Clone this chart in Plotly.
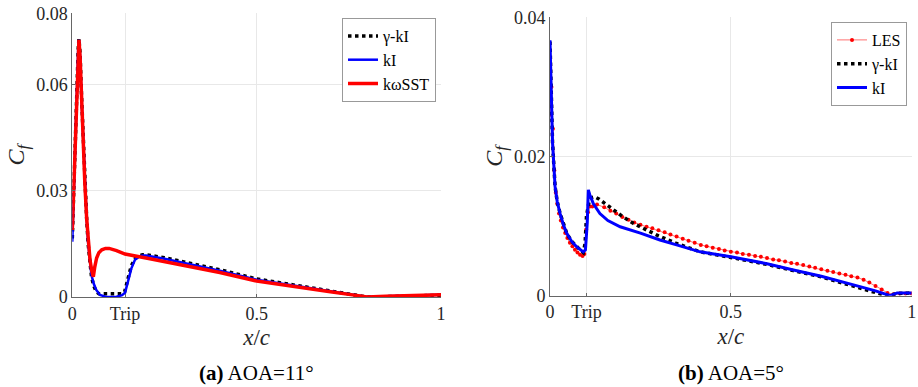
import plotly.graph_objects as go

# ---------- Panel (a): AOA = 11 deg ----------
a_sst_x = [0.0, 0.004, 0.008, 0.012, 0.016, 0.018, 0.021, 0.025, 0.03, 0.034, 0.039, 0.043, 0.048, 0.052,
           0.057, 0.061, 0.066, 0.072, 0.08, 0.09, 0.1, 0.12, 0.143, 0.2, 0.25, 0.3, 0.4, 0.5, 0.6, 0.7,
           0.76, 0.8, 0.85, 0.9, 1.0]
a_sst_y = [0.0189, 0.032, 0.047, 0.060, 0.070, 0.0725, 0.068, 0.056, 0.042, 0.032, 0.022, 0.0152, 0.0105,
           0.0078, 0.0057, 0.0085, 0.011, 0.0125, 0.0133, 0.0137, 0.0137, 0.0131, 0.0121, 0.011, 0.010,
           0.0089, 0.0069, 0.0045, 0.0029, 0.0015, 0.0006, 0.0, 0.0002, 0.0004, 0.0006]

a_ki_x = [0.0, 0.004, 0.008, 0.012, 0.016, 0.018, 0.021, 0.025, 0.03, 0.034, 0.039, 0.043, 0.048, 0.052,
          0.058, 0.065, 0.075, 0.09, 0.105, 0.12, 0.135, 0.143, 0.15, 0.16, 0.17, 0.18, 0.19, 0.2, 0.25,
          0.3, 0.4, 0.5, 0.6, 0.7, 0.8, 0.85, 0.9, 1.0]
a_ki_y = [0.0156, 0.030, 0.046, 0.060, 0.070, 0.0725, 0.068, 0.056, 0.042, 0.032, 0.022, 0.0152, 0.0095,
          0.0062, 0.0038, 0.002, 0.0006, 0.0001, 0.0, 0.0001, 0.0005, 0.0012, 0.004, 0.008, 0.0105,
          0.0113, 0.0117, 0.0117, 0.0108, 0.0097, 0.0074, 0.0049, 0.0032, 0.0017, 0.0, 0.0002, 0.0004, 0.0006]

a_gki_x = [0.0, 0.004, 0.008, 0.012, 0.016, 0.018, 0.021, 0.025, 0.03, 0.034, 0.039, 0.043, 0.048, 0.052,
           0.058, 0.065, 0.072, 0.09, 0.105, 0.12, 0.135, 0.142, 0.15, 0.16, 0.17, 0.18, 0.19, 0.2, 0.25,
           0.3, 0.4, 0.5, 0.6, 0.7, 0.8, 0.85, 0.9, 1.0]
a_gki_y = [0.0165, 0.031, 0.046, 0.060, 0.070, 0.0728, 0.069, 0.057, 0.043, 0.033, 0.022, 0.0150, 0.0090,
           0.0058, 0.0032, 0.0015, 0.0009, 0.0009, 0.0009, 0.0009, 0.0009, 0.0015, 0.005, 0.0088, 0.0108,
           0.0116, 0.0119, 0.0119, 0.0111, 0.0100, 0.0077, 0.0051, 0.0034, 0.0018, 0.0, 0.0001, 0.0003, 0.0005]

a_tick_vals = [0, 0.143, 0.5, 1]
a_tick_text = ["0", "Trip", "0.5", "1"]
a_ytick_vals = [0, 0.03, 0.06, 0.08]
a_ytick_text = ["0", "0.03", "0.06", "0.08"]

# ---------- Panel (b): AOA = 5 deg ----------
b_ki_x = [0.0, 0.003, 0.007, 0.014, 0.02, 0.028, 0.037, 0.046, 0.06, 0.074, 0.085, 0.092, 0.098, 0.103,
          0.106, 0.11, 0.12, 0.138, 0.16, 0.194, 0.25, 0.304, 0.35, 0.415, 0.5, 0.6, 0.673, 0.75, 0.857,
          0.9, 0.94, 0.96, 1.0]
b_ki_y = [0.0367, 0.030, 0.022, 0.0157, 0.0135, 0.0118, 0.0102, 0.0090, 0.0078, 0.0070, 0.0065, 0.0063,
          0.0066, 0.0105, 0.0152, 0.0145, 0.0132, 0.0118, 0.0108, 0.0099, 0.0090, 0.0080, 0.0073, 0.0063,
          0.0056, 0.0046, 0.0037, 0.0028, 0.0013, 0.0007, 0.0, 0.0004, 0.0004]

b_gki_x = [0.0, 0.003, 0.007, 0.014, 0.02, 0.028, 0.037, 0.046, 0.06, 0.074, 0.085, 0.092, 0.097, 0.101,
           0.108, 0.116, 0.124, 0.135, 0.15, 0.166, 0.2, 0.23, 0.3, 0.35, 0.415, 0.5, 0.6, 0.673, 0.75,
           0.857, 0.9, 0.93, 0.96, 1.0]
b_gki_y = [0.0365, 0.030, 0.022, 0.0157, 0.0135, 0.0118, 0.0102, 0.0090, 0.0078, 0.0070, 0.0065, 0.0062,
           0.0075, 0.0115, 0.0135, 0.0141, 0.0142, 0.0139, 0.0133, 0.0128, 0.0114, 0.0104, 0.0086, 0.0075,
           0.0063, 0.0055, 0.0045, 0.0036, 0.0027, 0.0011, 0.0005, 0.0, 0.0003, 0.0004]

b_les_x = [0.0, 0.004, 0.008, 0.012, 0.016, 0.02, 0.025, 0.03, 0.036, 0.042, 0.048, 0.055, 0.062, 0.069,
           0.076, 0.083, 0.09, 0.095, 0.1, 0.105, 0.11, 0.117, 0.13, 0.15, 0.167, 0.183, 0.2, 0.217, 0.233,
           0.25, 0.267, 0.283, 0.3, 0.317, 0.333, 0.35, 0.367, 0.383, 0.4, 0.417, 0.433, 0.45, 0.467,
           0.483, 0.5, 0.517, 0.533, 0.55, 0.567, 0.583, 0.6, 0.617, 0.633, 0.65, 0.667, 0.683, 0.7, 0.717,
           0.733, 0.75, 0.767, 0.783, 0.8, 0.817, 0.833, 0.85, 0.867, 0.883, 0.9, 0.917, 0.933, 0.95,
           0.967, 0.983, 1.0]
b_les_y = [0.026, 0.030, 0.024, 0.018, 0.0148, 0.0132, 0.0118, 0.0108, 0.0098, 0.0090, 0.0083, 0.0076,
           0.0071, 0.0066, 0.0062, 0.0059, 0.0057, 0.0060, 0.0095, 0.0120, 0.0128, 0.0128, 0.0131, 0.0127,
           0.0122, 0.0118, 0.0113, 0.0109, 0.0105, 0.0102, 0.0099, 0.0097, 0.0094, 0.0091, 0.0088, 0.0085,
           0.0082, 0.0079, 0.0076, 0.0073, 0.0071, 0.0069, 0.0067, 0.0065, 0.0063, 0.0062, 0.0060, 0.0059,
           0.0057, 0.0056, 0.0054, 0.0052, 0.0051, 0.0049, 0.0047, 0.0046, 0.0044, 0.0042, 0.0040, 0.0038,
           0.0036, 0.0034, 0.0032, 0.0030, 0.0028, 0.0026, 0.0023, 0.0019, 0.0014, 0.0009, 0.0004, 0.0002,
           0.0003, 0.0003, 0.0003]

b_tick_vals = [0, 0.101, 0.5, 1]
b_tick_text = ["0", "Trip", "0.5", "1"]
b_ytick_vals = [0, 0.02, 0.04]
b_ytick_text = ["0", "0.02", "0.04"]

FONT = "Liberation Serif"
BLUE = "#0000ff"
RED = "#ff0000"

fig = go.Figure()

# Panel (a)
fig.add_trace(go.Scatter(x=a_gki_x, y=a_gki_y, mode="lines", name="γ-kI",
                         line=dict(color="black", width=3.5, dash="dot"),
                         xaxis="x", yaxis="y", legend="legend"))
fig.add_trace(go.Scatter(x=a_ki_x, y=a_ki_y, mode="lines", name="kI",
                         line=dict(color=BLUE, width=2.5),
                         xaxis="x", yaxis="y", legend="legend"))
fig.add_trace(go.Scatter(x=a_sst_x, y=a_sst_y, mode="lines", name="kωSST",
                         line=dict(color=RED, width=3.5),
                         xaxis="x", yaxis="y", legend="legend"))

# Panel (b)
fig.add_trace(go.Scatter(x=b_les_x, y=b_les_y, mode="lines+markers", name="LES",
                         line=dict(color="#ff7070", width=1),
                         marker=dict(color=RED, size=4),
                         xaxis="x2", yaxis="y2", legend="legend2"))
fig.add_trace(go.Scatter(x=b_gki_x, y=b_gki_y, mode="lines", name="γ-kI",
                         line=dict(color="black", width=3.5, dash="dot"),
                         xaxis="x2", yaxis="y2", legend="legend2"))
fig.add_trace(go.Scatter(x=b_ki_x, y=b_ki_y, mode="lines", name="kI",
                         line=dict(color=BLUE, width=3),
                         xaxis="x2", yaxis="y2", legend="legend2"))

axis_common = dict(showgrid=True, gridcolor="#e8e8e8", gridwidth=1, zeroline=False,
                   showline=True, linecolor="#666666", linewidth=1, ticks="inside",
                   ticklen=3, tickcolor="#666666", automargin=False,
                   tickfont=dict(family=FONT, size=18, color="#262626"))

W, H = 918, 387

fig.update_layout(
    width=W, height=H,
    margin=dict(l=0, r=0, t=0, b=0, autoexpand=False),
    paper_bgcolor="white", plot_bgcolor="white",
    font=dict(family=FONT, color="#262626"),
    xaxis=dict(domain=[72.3 / W, 441 / W], range=[0, 1], anchor="y",
               tickvals=a_tick_vals, ticktext=a_tick_text,
               title=dict(text="<i>x</i>/<i>c</i>", font=dict(family=FONT, size=23), standoff=6),
               **axis_common),
    yaxis=dict(domain=[(H - 297) / H, (H - 13.3) / H], range=[0, 0.08], anchor="x",
               tickvals=a_ytick_vals, ticktext=a_ytick_text,
               title=dict(text="<i>C<sub>f</sub></i>", font=dict(family=FONT, size=24), standoff=4),
               **axis_common),
    xaxis2=dict(domain=[550 / W, 911.7 / W], range=[0, 1], anchor="y2",
                tickvals=b_tick_vals, ticktext=b_tick_text,
                title=dict(text="<i>x</i>/<i>c</i>", font=dict(family=FONT, size=23), standoff=6),
                **axis_common),
    yaxis2=dict(domain=[(H - 295.7) / H, (H - 17.3) / H], range=[0, 0.04], anchor="x2",
                tickvals=b_ytick_vals, ticktext=b_ytick_text,
                title=dict(text="<i>C<sub>f</sub></i>", font=dict(family=FONT, size=24), standoff=4),
                **axis_common),
    legend=dict(x=436 / W, y=1 - 18 / H, xanchor="right", yanchor="top",
                bgcolor="white", bordercolor="#999999", borderwidth=1,
                font=dict(family=FONT, size=16, color="black"),
                itemwidth=30, tracegroupgap=0),
    legend2=dict(x=907 / W, y=1 - 22 / H, xanchor="right", yanchor="top",
                 bgcolor="white", bordercolor="#999999", borderwidth=1,
                 font=dict(family=FONT, size=16, color="black"),
                 itemwidth=30, tracegroupgap=0),
    annotations=[
        dict(text="<b>(a)</b> AOA=11°", x=256.7 / W, y=1 - 373 / H, xref="paper", yref="paper",
             xanchor="center", yanchor="middle", showarrow=False,
             font=dict(family=FONT, size=21, color="black")),
        dict(text="<b>(b)</b> AOA=5°", x=731 / W, y=1 - 373 / H, xref="paper", yref="paper",
             xanchor="center", yanchor="middle", showarrow=False,
             font=dict(family=FONT, size=21, color="black")),
    ],
)

fig.write_html("out.html",
               config={"displayModeBar": False},
               post_script="document.body.style.margin='0';document.body.style.padding='0';")
